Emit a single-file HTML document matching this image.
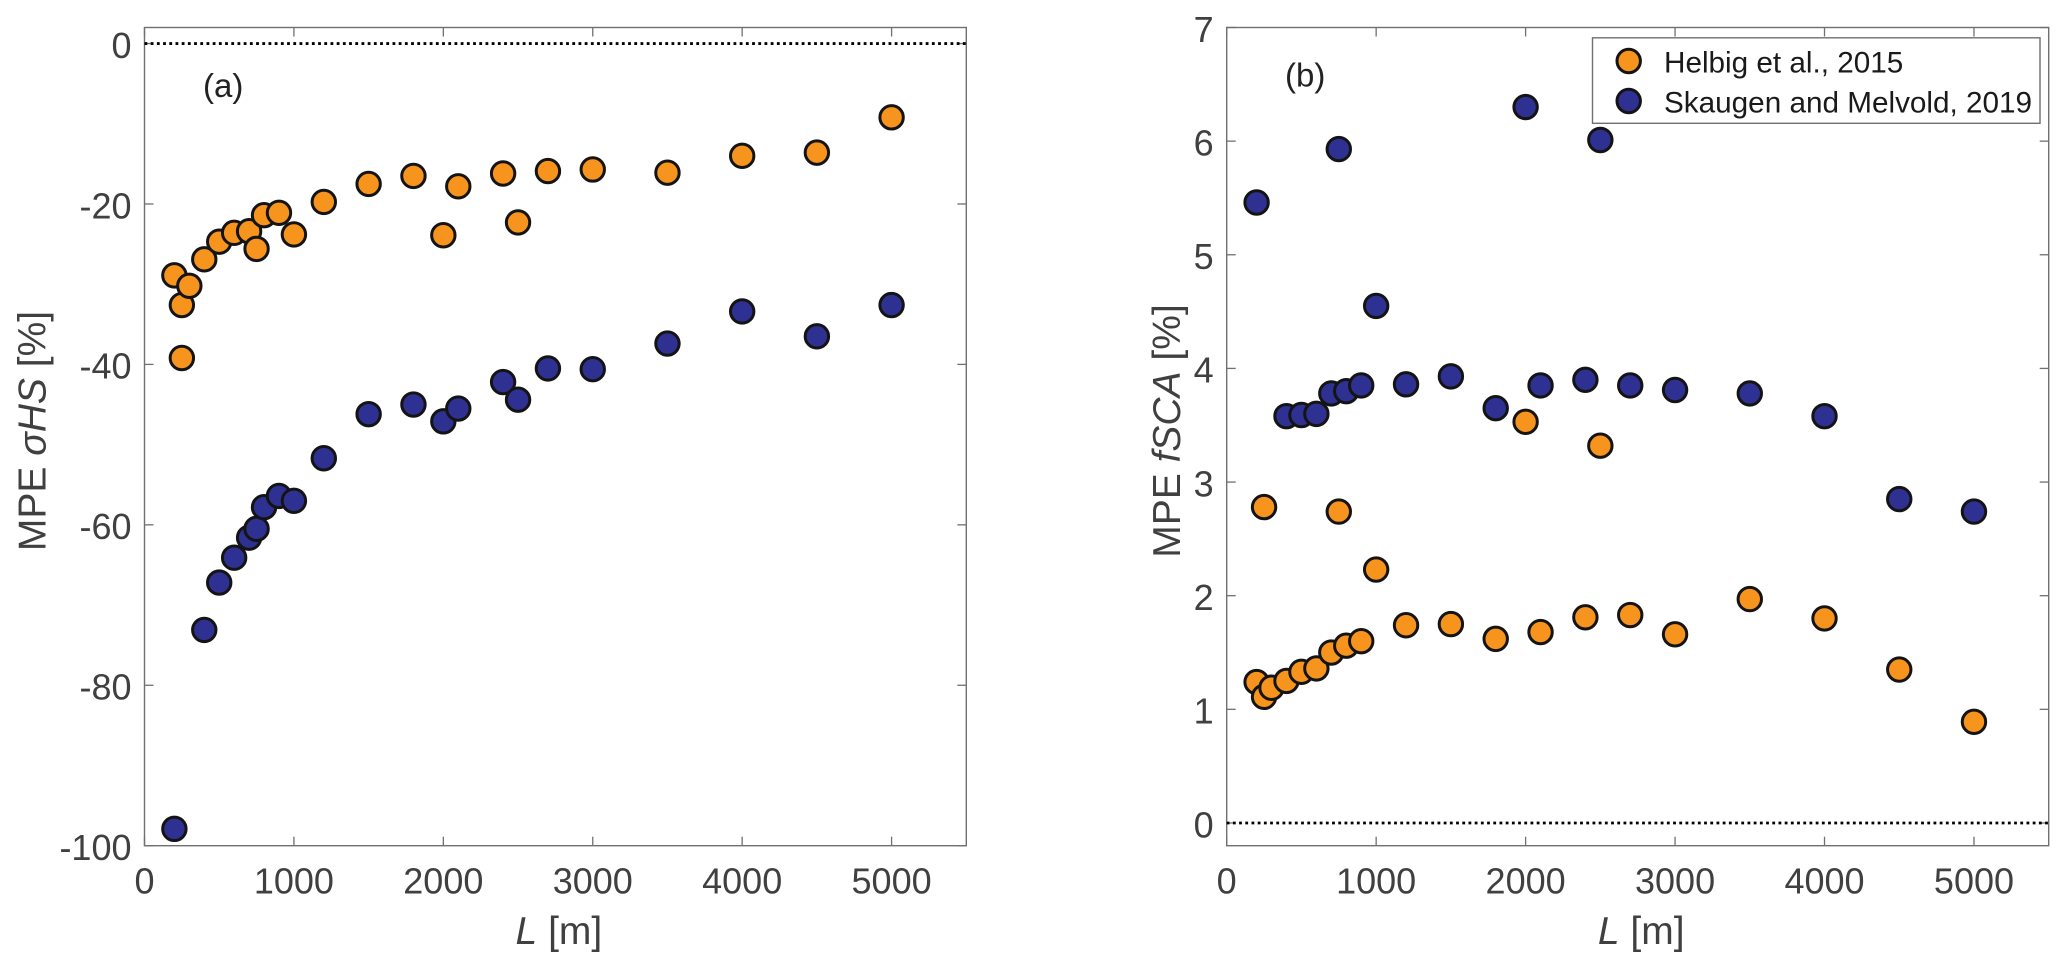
<!DOCTYPE html>
<html lang="en">
<head>
<meta charset="utf-8">
<title>MPE versus L</title>
<style>
html,body{margin:0;padding:0;background:#fff;}
svg{display:block;}
text{font-family:"Liberation Sans",Arial,sans-serif;}
</style>
</head>
<body>
<svg id="chart" xmlns="http://www.w3.org/2000/svg" width="2067" height="971" viewBox="0 0 2067 971"></svg>
<script>
var xTickValues = [0, 1000, 2000, 3000, 4000, 5000];
var xTickLabels = ['0', '1000', '2000', '3000', '4000', '5000'];
var aYTickValues = [0, -20, -40, -60, -80, -100];
var aYTickLabels = ['0', '-20', '-40', '-60', '-80', '-100'];
var bYTickValues = [0, 1, 2, 3, 4, 5, 6, 7];
var bYTickLabels = ['0', '1', '2', '3', '4', '5', '6', '7'];

var helbigL = [200, 250, 250, 300, 400, 500, 600, 700, 750, 800, 900, 1000, 1200, 1500, 1800, 2000, 2100, 2400, 2500, 2700, 3000, 3500, 4000, 4500, 5000];
var skaugenL = [200, 400, 500, 600, 700, 750, 800, 900, 1000, 1200, 1500, 1800, 2000, 2100, 2400, 2500, 2700, 3000, 3500, 4000, 4500, 5000];

var aHelbig = [-28.9, -32.6, -39.2, -30.2, -26.9, -24.7, -23.6, -23.4, -25.6, -21.4, -21.1, -23.8, -19.75, -17.5, -16.5, -23.9, -17.8, -16.2, -22.3, -15.9, -15.7, -16.1, -14.0, -13.6, -9.2];
var aSkaugen = [-97.9, -73.1, -67.2, -64.1, -61.6, -60.5, -57.8, -56.4, -57.0, -51.7, -46.2, -45.0, -47.1, -45.5, -42.2, -44.4, -40.5, -40.6, -37.4, -33.4, -36.5, -32.6];
var bHelbig = [1.24, 1.11, 2.78, 1.19, 1.25, 1.33, 1.36, 1.50, 2.74, 1.56, 1.60, 2.23, 1.74, 1.75, 1.62, 3.53, 1.68, 1.81, 3.32, 1.83, 1.66, 1.97, 1.80, 1.35, 0.89];
var bSkaugen = [5.46, 3.58, 3.59, 3.60, 3.78, 5.93, 3.80, 3.85, 4.55, 3.86, 3.93, 3.65, 6.30, 3.85, 3.90, 6.01, 3.85, 3.81, 3.78, 3.58, 2.85, 2.74];

var ORANGE = '#f7941d';
var BLUE = '#2e3192';
var NS = 'http://www.w3.org/2000/svg';
var svg = document.getElementById('chart');

function make(parent, tag, attrs, txt) {
  var el = document.createElementNS(NS, tag);
  for (var k in attrs) { el.setAttribute(k, attrs[k]); }
  if (txt !== undefined) { el.textContent = txt; }
  parent.appendChild(el);
  return el;
}

function drawPanel(cfg) {
  var L = cfg.left, R = cfg.right, T = 27.5, B = 845.7;
  var xScale = function (v) { return L + (v - 0) / 5500 * (R - L); };
  var yScale = function (v) { return B - (v - cfg.yMin) / (cfg.yMax - cfg.yMin) * (B - T); };
  var axisColor = '#707070';
  var tickLen = 9;

  var g = make(svg, 'g', {});
  
  

  var frame = make(g, 'rect', {x: L, y: T, width: R - L, height: B - T, fill: '#fff', stroke: axisColor, 'stroke-width': 1.4});
  
  

  xTickValues.forEach(function (v, i) {
    var x = xScale(v);
    var t1 = make(g, 'line', {x1: x, x2: x, y1: B, y2: B - tickLen, stroke: axisColor, 'stroke-width': 1.3});
    
    
    var t2 = make(g, 'line', {x1: x, x2: x, y1: T, y2: T + tickLen, stroke: axisColor, 'stroke-width': 1.3});
    
    
    var lab = make(g, 'text', {x: x, y: 893.5, 'text-anchor': 'middle', 'font-size': 36, fill: '#404040'}, xTickLabels[i]);
    
    
  });

  cfg.yTicks.forEach(function (v, i) {
    var y = yScale(v);
    var t1 = make(g, 'line', {x1: L, x2: L + tickLen, y1: y, y2: y, stroke: axisColor, 'stroke-width': 1.3});
    
    
    var t2 = make(g, 'line', {x1: R, x2: R - tickLen, y1: y, y2: y, stroke: axisColor, 'stroke-width': 1.3});
    
    
    var lab = make(g, 'text', {x: L - 13, y: y + 14.3, 'text-anchor': 'end', 'font-size': 36, fill: '#404040'}, cfg.yLabels[i]);
    
    
  });

  var zero = make(g, 'line', {x1: L, x2: R, y1: yScale(0), y2: yScale(0), stroke: '#000', 'stroke-width': 2.8, 'stroke-dasharray': '2.8 3.4'});
  
  

  function series(name, xs, ys, color) {
    var sg = make(g, 'g', {});
    
    
    xs.forEach(function (v, i) {
      var c = make(sg, 'circle', {cx: xScale(v), cy: yScale(ys[i]), r: 11.7, fill: color, stroke: '#141414', 'stroke-width': 3});
      
      
    });
  }
  series(cfg.firstName, cfg.firstX, cfg.firstY, cfg.firstColor);
  series(cfg.secondName, cfg.secondX, cfg.secondY, cfg.secondColor);

  var xt = make(g, 'text', {x: (L + R) / 2 + 3.5, y: 944, 'text-anchor': 'middle', 'font-size': 39, fill: '#404040'});
  
  
  make(xt, 'tspan', {'font-style': 'italic'}, 'L');
  make(xt, 'tspan', {}, ' [m]');

  var yt = make(g, 'text', {transform: 'translate(' + cfg.yTitleX + ' 431) rotate(-90)', 'text-anchor': 'middle', 'font-size': 39, fill: '#404040'});
  
  
  make(yt, 'tspan', {}, 'MPE ');
  make(yt, 'tspan', {'font-style': 'italic'}, cfg.yTitleVar);
  make(yt, 'tspan', {}, ' [%]');

  var pl = make(g, 'text', {x: cfg.tagX, y: cfg.tagY, 'font-size': 33, fill: '#222'}, cfg.tag);
  
  
}

drawPanel({
  id: 'panel-a', left: 144.5, right: 966.3, yMin: -100, yMax: 2,
  yTicks: aYTickValues, yLabels: aYTickLabels,
  firstName: 'skaugen', firstX: skaugenL, firstY: aSkaugen, firstColor: BLUE,
  secondName: 'helbig', secondX: helbigL, secondY: aHelbig, secondColor: ORANGE,
  yTitleX: 45.7, yTitleVar: '\u03C3HS', tag: '(a)', tagX: 203, tagY: 97
});
drawPanel({
  id: 'panel-b', left: 1226.7, right: 2048.7, yMin: -0.2, yMax: 7,
  yTicks: bYTickValues, yLabels: bYTickLabels,
  firstName: 'helbig', firstX: helbigL, firstY: bHelbig, firstColor: ORANGE,
  secondName: 'skaugen', secondX: skaugenL, secondY: bSkaugen, secondColor: BLUE,
  yTitleX: 1180, yTitleVar: 'fSCA', tag: '(b)', tagX: 1285, tagY: 86.5
});

var legend = make(svg, 'g', {});


var legendBox = make(legend, 'rect', {x: 1592.5, y: 37.8, width: 447.5, height: 85.5, fill: '#fff', stroke: '#707070', 'stroke-width': 1.4});


var legendMarker1 = make(legend, 'circle', {cx: 1628.7, cy: 61, r: 11.7, fill: ORANGE, stroke: '#141414', 'stroke-width': 3});


var legendText1 = make(legend, 'text', {x: 1664, y: 72.5, 'font-size': 29.7, fill: '#1a1a1a'}, 'Helbig et al., 2015');


var legendMarker2 = make(legend, 'circle', {cx: 1628.7, cy: 101, r: 11.7, fill: BLUE, stroke: '#141414', 'stroke-width': 3});


var legendText2 = make(legend, 'text', {x: 1664, y: 112.5, 'font-size': 29.7, fill: '#1a1a1a'}, 'Skaugen and Melvold, 2019');


</script>
</body>
</html>
